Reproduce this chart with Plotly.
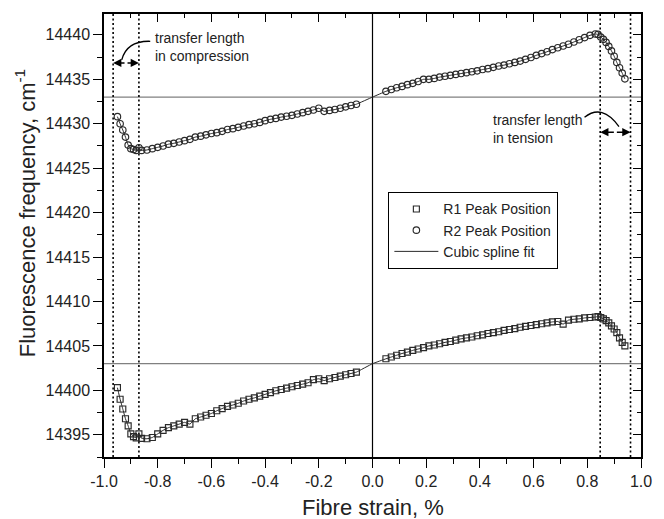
import plotly.graph_objects as go

# ---------------- data ----------------
strain_neg = [-0.95, -0.94, -0.93, -0.92, -0.91, -0.90, -0.89, -0.88, -0.87, -0.86,
              -0.84, -0.82, -0.80, -0.78, -0.76, -0.74, -0.72, -0.70, -0.68, -0.66,
              -0.64, -0.62, -0.60, -0.58, -0.56, -0.54, -0.52, -0.50, -0.48, -0.46,
              -0.44, -0.42, -0.40, -0.38, -0.36, -0.34, -0.32, -0.30, -0.28, -0.26,
              -0.24, -0.22, -0.20, -0.18, -0.16, -0.14, -0.12, -0.10, -0.08, -0.06]
strain_pos = [0.05, 0.07, 0.09, 0.11, 0.13, 0.15, 0.17, 0.19, 0.21, 0.23,
              0.25, 0.27, 0.29, 0.31, 0.33, 0.35, 0.37, 0.39, 0.41, 0.43,
              0.45, 0.47, 0.49, 0.51, 0.53, 0.55, 0.57, 0.59, 0.61, 0.63,
              0.65, 0.67, 0.69, 0.71, 0.73, 0.75, 0.77, 0.79, 0.81, 0.83,
              0.84, 0.85, 0.86, 0.87, 0.88, 0.89, 0.90, 0.91, 0.92, 0.93, 0.94]

r1_neg = [14400.3, 14399.0, 14397.9, 14396.8, 14396.0, 14395.1, 14394.8, 14394.65, 14395.1, 14394.6,
          14394.55, 14394.7, 14395.1, 14395.5, 14395.8, 14396.0, 14396.2, 14396.4, 14396.2, 14396.8,
          14397.0, 14397.2, 14397.4, 14397.7, 14397.95, 14398.2, 14398.35, 14398.55, 14398.8, 14399.0,
          14399.15, 14399.35, 14399.55, 14399.75, 14399.95, 14400.1, 14400.25, 14400.4, 14400.55, 14400.7,
          14400.85, 14401.2, 14401.3, 14401.1, 14401.3, 14401.45, 14401.6, 14401.75, 14401.9, 14402.05]
r1_pos = [14403.55, 14403.75, 14403.95, 14404.15, 14404.3, 14404.5, 14404.65, 14404.8, 14405.0, 14405.1,
          14405.25, 14405.4, 14405.5, 14405.65, 14405.8, 14405.9, 14406.0, 14406.15, 14406.25, 14406.4,
          14406.5, 14406.6, 14406.75, 14406.85, 14406.95, 14407.1, 14407.2, 14407.3, 14407.4, 14407.5,
          14407.6, 14407.7, 14407.75, 14407.45, 14407.9, 14408.0, 14408.05, 14408.15, 14408.2, 14408.25,
          14408.3, 14408.2, 14408.05, 14407.85, 14407.6, 14407.25, 14406.9, 14406.5, 14405.9, 14405.4, 14405.0]

r2_neg = [14430.8, 14430.0, 14429.3, 14428.5, 14427.6, 14427.2, 14427.1, 14427.0, 14427.3, 14427.0,
          14427.05, 14427.2, 14427.35, 14427.5, 14427.7, 14427.8, 14427.95, 14428.1, 14428.25, 14428.5,
          14428.6, 14428.75, 14428.9, 14429.0, 14429.15, 14429.35, 14429.45, 14429.6, 14429.75, 14429.9,
          14430.0, 14430.15, 14430.35, 14430.5, 14430.6, 14430.75, 14430.85, 14430.95, 14431.1, 14431.25,
          14431.4, 14431.55, 14431.75, 14431.4, 14431.5, 14431.6, 14431.75, 14431.9, 14432.05, 14432.2]
r2_pos = [14433.65, 14433.85, 14434.05, 14434.2, 14434.4, 14434.55, 14434.75, 14435.0, 14435.0, 14435.1,
          14435.25, 14435.35, 14435.45, 14435.55, 14435.65, 14435.75, 14435.85, 14435.95, 14436.1, 14436.2,
          14436.35, 14436.5, 14436.6, 14436.75, 14436.9, 14437.05, 14437.25, 14437.45, 14437.7, 14437.9,
          14438.1, 14438.35, 14438.55, 14438.75, 14438.95, 14439.2, 14439.45, 14439.7, 14439.95, 14440.1,
          14440.05, 14439.75, 14439.5, 14439.15, 14438.7, 14438.2, 14437.6, 14436.9, 14436.3, 14435.7, 14435.05]

r1_zero_strain = 14403.0
r2_zero_strain = 14433.0
reference_freqs = [r1_zero_strain, r2_zero_strain]
transfer_bounds = [-0.966, -0.87, 0.848, 0.961]

x_tick_vals = [-1.0, -0.8, -0.6, -0.4, -0.2, 0.0, 0.2, 0.4, 0.6, 0.8, 1.0]
x_tick_labels = ["-1.0", "-0.8", "-0.6", "-0.4", "-0.2", "0.0", "0.2", "0.4", "0.6", "0.8", "1.0"]
y_tick_vals = [14395, 14400, 14405, 14410, 14415, 14420, 14425, 14430, 14435, 14440]
y_tick_labels = [str(v) for v in y_tick_vals]

X_RANGE = [-1.0, 1.0]
Y_RANGE = [14392.5, 14442.35]

FONT = "Liberation Sans, Arial, sans-serif"
INK = "#222222"
MK = "#2a2a2a"

fig = go.Figure()

# spline fit lines (through zero strain)
fit_x = strain_neg + [0.0] + strain_pos
fig.add_trace(go.Scatter(x=fit_x, y=r1_neg + [r1_zero_strain] + r1_pos, mode="lines",
                         line=dict(color=MK, width=1, shape="spline", smoothing=0.3),
                         name="Cubic spline fit", legendrank=3, showlegend=True, hoverinfo="skip"))
fig.add_trace(go.Scatter(x=fit_x, y=r2_neg + [r2_zero_strain] + r2_pos, mode="lines",
                         line=dict(color=MK, width=1, shape="spline", smoothing=0.3),
                         name="Cubic spline fit", showlegend=False, hoverinfo="skip"))

fig.add_trace(go.Scatter(x=strain_neg + strain_pos, y=r1_neg + r1_pos, mode="markers",
                         marker=dict(symbol="square-open", size=6, color=MK, line=dict(width=1.15, color=MK)),
                         name="R1 Peak Position", legendrank=1))
fig.add_trace(go.Scatter(x=strain_neg + strain_pos, y=r2_neg + r2_pos, mode="markers",
                         marker=dict(symbol="circle-open", size=6.5, color=MK, line=dict(width=1.15, color=MK)),
                         name="R2 Peak Position", legendrank=2))

# dummy trace for mirrored (inside-tick) axes
fig.add_trace(go.Scatter(x=[None], y=[None], xaxis="x2", yaxis="y2", showlegend=False, hoverinfo="skip"))

for v in reference_freqs:
    fig.add_hline(y=v, line=dict(color="#808080", width=1.3), layer="below")
fig.add_vline(x=0.0, line=dict(color="#000000", width=1.2), layer="below")
for v in transfer_bounds:
    fig.add_vline(x=v, line=dict(color="#000000", width=1.6, dash="2px,2.5px"), layer="below")

# curved pointer lines
fig.add_shape(type="path", xref="x", yref="y",
              path="M -0.8278,14439.28 Q -0.9147,14439.36 -0.934,14437.19",
              line=dict(color="#000000", width=1.3))
fig.add_shape(type="path", xref="x", yref="y",
              path="M 0.7897,14430.73 Q 0.8553,14432.31 0.918,14429.69",
              line=dict(color="#000000", width=1.3))

# double-headed arrows
def double_arrow(x0, x1, y):
    xm = (x0 + x1) / 2
    for xe in (x0, x1):
        fig.add_annotation(x=xe, y=y, ax=xm, ay=y, xref="x", yref="y", axref="x", ayref="y",
                           text="", showarrow=True, arrowhead=2, arrowsize=1.1, arrowwidth=1.5,
                           arrowcolor="#000000", standoff=0, startstandoff=0)

double_arrow(transfer_bounds[0], transfer_bounds[1], 14436.85)
double_arrow(transfer_bounds[2], transfer_bounds[3], 14429.05)

fig.add_annotation(x=-0.816, y=14440.75, xref="x", yref="y", xanchor="left", yanchor="top",
                   text="transfer length<br>in compression", showarrow=False, align="left",
                   font=dict(family=FONT, size=14, color=INK))
fig.add_annotation(x=0.442, y=14431.6, xref="x", yref="y", xanchor="left", yanchor="top",
                   text="transfer length<br>in tension", showarrow=False, align="left",
                   font=dict(family=FONT, size=14, color=INK))

# axis titles
fig.add_annotation(x=0.5, y=-0.114, xref="paper", yref="paper", xanchor="center", yanchor="middle",
                   text="Fibre strain, %", showarrow=False, font=dict(family=FONT, size=22, color=INK))
fig.add_annotation(x=-0.1465, y=0.551, xref="paper", yref="paper", xanchor="center", yanchor="middle",
                   text="Fluorescence frequency, cm<sup>-1</sup>", textangle=-90, showarrow=False,
                   font=dict(family=FONT, size=22, color=INK))

axis_common = dict(showgrid=False, zeroline=False, showline=True, linecolor="#000000", linewidth=1.5,
                   tickcolor="#000000", tickwidth=1.3)

fig.update_layout(
    width=664, height=519,
    margin=dict(l=104, r=14, t=14, b=62),
    paper_bgcolor="white", plot_bgcolor="white",
    font=dict(family=FONT, color=INK),
    xaxis=dict(range=X_RANGE, tickvals=x_tick_vals, ticktext=x_tick_labels, ticks="outside", ticklen=9,
               tickfont=dict(size=16, color=INK),
               minor=dict(dtick=0.1, tick0=-1.0, ticks="outside", ticklen=5, tickcolor="#000000", tickwidth=1.3),
               **axis_common),
    yaxis=dict(range=Y_RANGE, tickvals=y_tick_vals, ticktext=y_tick_labels, ticks="outside", ticklen=9,
               tickfont=dict(size=16, color=INK),
               minor=dict(dtick=2.5, tick0=14395, ticks="outside", ticklen=5, tickcolor="#000000", tickwidth=1.3),
               **axis_common),
    xaxis2=dict(range=X_RANGE, overlaying="x", side="top", anchor="y", tickvals=x_tick_vals,
                ticks="inside", ticklen=8, showticklabels=False,
                minor=dict(dtick=0.1, tick0=-1.0, ticks="inside", ticklen=4, tickcolor="#000000", tickwidth=1.3),
                **axis_common),
    yaxis2=dict(range=Y_RANGE, overlaying="y", side="right", anchor="x", tickvals=y_tick_vals,
                ticks="inside", ticklen=8, showticklabels=False,
                minor=dict(dtick=2.5, tick0=14395, ticks="inside", ticklen=4, tickcolor="#000000", tickwidth=1.3),
                **axis_common),
    legend=dict(x=0.529, y=0.598, xanchor="left", yanchor="top", bgcolor="white",
                bordercolor="#000000", borderwidth=1.3, font=dict(family=FONT, size=14, color=INK),
                tracegroupgap=0, itemwidth=44),
    showlegend=True,
)

fig.write_html("out.html")
